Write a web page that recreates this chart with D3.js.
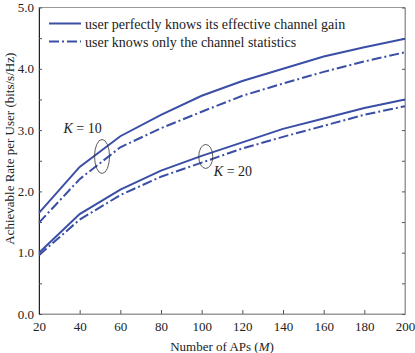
<!DOCTYPE html>
<meta charset="utf-8">
<style>
body { margin: 0; background: #fff; }
text { font-family: "Liberation Serif", "DejaVu Serif", serif; fill: #222; }
</style>
<body>
<div id="vis"></div>
<script src="https://cdn.jsdelivr.net/npm/d3@7"></script>
<script>

// data
var aps = [20, 40, 60, 80, 100, 120, 140, 160, 180, 200];
var k10Perfect = [1.65, 2.40, 2.90, 3.25, 3.56, 3.80, 4.00, 4.20, 4.35, 4.49];
var k10Stats   = [1.49, 2.20, 2.72, 3.03, 3.30, 3.56, 3.76, 3.95, 4.12, 4.27];
var k20Perfect = [1.00, 1.63, 2.03, 2.34, 2.58, 2.80, 3.02, 3.19, 3.36, 3.50];
var k20Stats   = [0.96, 1.54, 1.94, 2.24, 2.47, 2.70, 2.89, 3.07, 3.25, 3.39];
var xTicks = [20, 40, 60, 80, 100, 120, 140, 160, 180, 200];
var yTicks = [0, 0.5, 1, 1.5, 2, 2.5, 3, 3.5, 4, 4.5, 5];
var legendLabels = ["user perfectly knows its effective channel gain", "user knows only the channel statistics"];

var blue = "#3a4ea6";
var dashDot = "10,3,2,3";

var margin = {top: 7.5, right: 10, bottom: 39, left: 39}
  , width = 415 - margin.left - margin.right
  , height = 353 - margin.top - margin.bottom;

var svg = d3.select("#vis").append("svg")
	.attr("width", 415)
	.attr("height", 353)
	.append("g")
	.attr("transform", "translate(" + margin.left + "," + margin.top + ")");

var xScale = d3.scaleLinear().domain([20, 200]).range([0, width]);
var yScale = d3.scaleLinear().domain([0, 5]).range([height, 0]);

// frame
svg.append("rect")
	.attr("width", width).attr("height", height)
	.attr("fill", "none").attr("stroke", "#999").attr("stroke-width", 1);

// bottom axis, ticks pointing in
var xAxis = svg.append("g")
	.attr("transform", "translate(0," + height + ")")
	.call(d3.axisBottom(xScale).tickValues(xTicks).tickSizeInner(-4).tickSizeOuter(0).tickPadding(8));
xAxis.select(".domain").attr("stroke", "#999");
xAxis.selectAll(".tick line").attr("stroke", "#555");
xAxis.selectAll("text").style("font-size", "13px").attr("fill", "#222");

// left axis, labels only on whole numbers
var yAxis = svg.append("g")
	.call(d3.axisLeft(yScale).tickValues(yTicks).tickSizeInner(-3).tickSizeOuter(0).tickPadding(5)
		.tickFormat(function(d) { return d % 1 === 0 ? d3.format(".1f")(d) : ""; }));
yAxis.select(".domain").attr("stroke", "#222");
yAxis.selectAll(".tick line").attr("stroke", "#555");
yAxis.selectAll("text").style("font-size", "13px").attr("fill", "#222");

// right side ticks
svg.append("g")
	.attr("transform", "translate(" + width + ",0)")
	.call(d3.axisRight(yScale).tickValues(yTicks).tickSizeInner(-3).tickSizeOuter(0).tickFormat(""))
	.call(function(g) { g.select(".domain").attr("stroke", "#999"); g.selectAll(".tick line").attr("stroke", "#555"); });

// axis titles
svg.append("text")
	.attr("x", width / 2).attr("y", height + 37)
	.attr("text-anchor", "middle").style("font-size", "13px")
	.html('Number of APs (<tspan font-style="italic">M</tspan>)');

svg.append("text")
	.attr("transform", "rotate(-90)")
	.attr("x", -height / 2 + 12).attr("y", -25)
	.attr("text-anchor", "middle").style("font-size", "13px")
	.text("Achievable Rate per User (bits/s/Hz)");

// curves
var line = d3.line()
	.x(function(d) { return xScale(d[0]); })
	.y(function(d) { return yScale(d[1]); });

var series = [
	{vals: k10Perfect, dash: null},
	{vals: k10Stats, dash: dashDot},
	{vals: k20Perfect, dash: null},
	{vals: k20Stats, dash: dashDot}
];

series.forEach(function(s) {
	svg.append("path")
		.datum(d3.zip(aps, s.vals))
		.attr("d", line)
		.attr("fill", "none")
		.attr("stroke", blue)
		.attr("stroke-width", 2)
		.attr("stroke-dasharray", s.dash);
});

// legend
legendLabels.forEach(function(lbl, i) {
	var ly = 16 + i * 18;
	svg.append("line")
		.attr("x1", 10).attr("x2", 42).attr("y1", ly).attr("y2", ly)
		.attr("stroke", blue).attr("stroke-width", 2)
		.attr("stroke-dasharray", i === 0 ? null : dashDot);
	svg.append("text")
		.attr("x", 46).attr("y", ly + 5)
		.style("font-size", "14px")
		.text(lbl);
});

// K annotations with ellipses
svg.append("ellipse")
	.attr("cx", xScale(51)).attr("cy", yScale(2.57))
	.attr("rx", 7.5).attr("ry", 17)
	.attr("fill", "none").attr("stroke", "#333").attr("stroke-width", 0.8);
svg.append("text")
	.attr("x", xScale(32)).attr("y", yScale(2.95))
	.style("font-size", "14px")
	.html('<tspan font-style="italic">K</tspan> = 10');

svg.append("ellipse")
	.attr("cx", xScale(102)).attr("cy", yScale(2.57))
	.attr("rx", 7).attr("ry", 12)
	.attr("fill", "none").attr("stroke", "#333").attr("stroke-width", 0.8);
svg.append("text")
	.attr("x", xScale(106)).attr("y", yScale(2.25))
	.style("font-size", "14px")
	.html('<tspan font-style="italic">K</tspan> = 20');

</script>
</body>
</html>
